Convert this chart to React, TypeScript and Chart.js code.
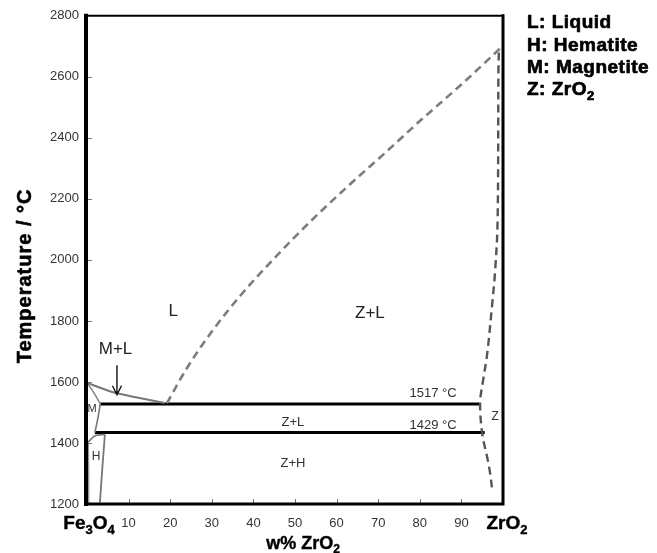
import React, { useEffect, useRef } from "react";
import { Chart, registerables } from "chart.js";
Chart.register(...registerables);

const FONT = "Arial, 'Liberation Sans', Helvetica, sans-serif";

// ---- axis ----
const xMin = 0;
const xMax = 100;
const xStep = 10;
const yMin = 1200;
const yMax = 2800;
const yStep = 200;

// ---- phase boundaries (w% ZrO2, °C) ----
const liquidusX = [19.2, 24, 30, 37, 45, 54, 63, 72, 80, 90, 98.9, 99.6];
const liquidusT = [1530, 1645, 1765, 1885, 2005, 2130, 2245, 2355, 2455, 2575, 2688, 2697];

const zrSolidusX = [99.0, 98.9, 98.7, 98.1, 97.4, 96.2, 95.2, 94.5, 95.0, 96.2, 96.9, 97.4];
const zrSolidusT = [2680, 2614, 2126, 1963, 1855, 1692, 1604, 1532, 1431, 1353, 1301, 1246];

const eutecticX = [3.2, 94.3];
const eutecticT = [1528, 1528];

const eutectoidX = [1.9, 95.6];
const eutectoidT = [1434, 1434];

const leftLiquidusX = [0, 6.3, 12, 18.7];
const leftLiquidusT = [1597, 1566, 1549, 1531];

const magUpperX = [0, 1.4, 3.2];
const magUpperT = [1597, 1570, 1529];

const magLowerX = [3.2, 2.6, 1.9];
const magLowerT = [1529, 1480, 1434];

const hemTopX = [0.3, 1.9, 4.3];
const hemTopT = [1403, 1424, 1428];

const hemRightX = [4.3, 3.7, 3.1];
const hemRightT = [1428, 1320, 1205];

const hemLeftX = [0.3, 0.4, 0.4];
const hemLeftT = [1403, 1300, 1202];

// arrow pointing at the M+L field
const arrowX = [7.2, 7.2];
const arrowT = [1655, 1558];

// ---- text labels ----
const regionLabels = ["L", "Z+L", "M+L", "Z+L", "Z+H", "M", "H", "Z", "1517 °C", "1429 °C"];
const regionX = [20.7, 68, 6.85, 49.5, 49.5, 1.2, 2.2, 98.1, 83.2, 83.2];
const regionT = [1832, 1826, 1708, 1467, 1334, 1512, 1354, 1485, 1562, 1458];
const regionSize = [17, 17, 17, 13, 13, 11, 12, 12, 13, 13];

const legendKeys = ["L", "H", "M", "Z"];
const legendNames = ["Liquid", "Hematite", "Magnetite", "ZrO"];
const legendSubs = ["", "", "", "2"];

const yTitle = "Temperature / °C";

const pts = (xs: number[], ts: number[]) => xs.map((x, i) => ({ x, y: ts[i] }));

type Part = [string, boolean];

function drawRich(
  ctx: CanvasRenderingContext2D,
  parts: Part[],
  x: number,
  y: number,
  size: number,
  align: "center" | "left",
  spacing = 0,
  heavy = 0
) {
  const mainF = `bold ${size}px ${FONT}`;
  const subF = `bold ${Math.round(size * 0.66)}px ${FONT}`;
  (ctx as any).letterSpacing = `${spacing}px`;
  let total = 0;
  const widths = parts.map(([t, s]) => {
    ctx.font = s ? subF : mainF;
    const w = ctx.measureText(t).width;
    total += w;
    return w;
  });
  let cx = align === "center" ? x - total / 2 : x;
  ctx.textAlign = "left";
  ctx.textBaseline = "middle";
  ctx.strokeStyle = ctx.fillStyle as string;
  ctx.lineWidth = heavy;
  ctx.lineJoin = "round";
  parts.forEach(([t, s], i) => {
    ctx.font = s ? subF : mainF;
    const yy = s ? y + size * 0.32 : y;
    ctx.fillText(t, cx, yy);
    if (heavy > 0) ctx.strokeText(t, cx, yy);
    cx += widths[i];
  });
  (ctx as any).letterSpacing = "0px";
}

const decorPlugin = {
  id: "decor",
  afterDatasetsDraw(chart: any) {
    const { ctx, chartArea: a, scales } = chart;
    const xs = scales.x;
    const ys = scales.y;
    ctx.save();
    // inward ticks
    ctx.strokeStyle = "#777";
    ctx.lineWidth = 1;
    for (let v = yMin + yStep; v < yMax; v += yStep) {
      const py = Math.round(ys.getPixelForValue(v)) + 0.5;
      ctx.beginPath();
      ctx.moveTo(a.left, py);
      ctx.lineTo(a.left + 5, py);
      ctx.stroke();
    }
    for (let v = xMin + xStep; v < xMax; v += xStep) {
      const px = Math.round(xs.getPixelForValue(v)) + 0.5;
      ctx.beginPath();
      ctx.moveTo(px, a.bottom);
      ctx.lineTo(px, a.bottom - 5);
      ctx.stroke();
    }
    // frame
    ctx.strokeStyle = "#000";
    ctx.lineCap = "square";
    ctx.lineWidth = 2;
    ctx.beginPath();
    ctx.moveTo(a.left, a.top);
    ctx.lineTo(a.right, a.top);
    ctx.stroke();
    ctx.lineWidth = 3;
    ctx.beginPath();
    ctx.moveTo(a.right, a.top);
    ctx.lineTo(a.right, a.bottom);
    ctx.lineTo(a.left, a.bottom);
    ctx.stroke();
    ctx.lineWidth = 4;
    ctx.beginPath();
    ctx.moveTo(a.left - 1, a.top);
    ctx.lineTo(a.left - 1, a.bottom);
    ctx.stroke();

    // arrow
    const ax = xs.getPixelForValue(arrowX[0]);
    const ay0 = ys.getPixelForValue(arrowT[0]);
    const ax1 = xs.getPixelForValue(arrowX[1]);
    const ay1 = ys.getPixelForValue(arrowT[1]);
    ctx.strokeStyle = "#111";
    ctx.lineWidth = 1.4;
    ctx.lineCap = "butt";
    ctx.beginPath();
    ctx.moveTo(ax, ay0);
    ctx.lineTo(ax1, ay1);
    ctx.moveTo(ax1 - 4.5, ay1 - 9);
    ctx.lineTo(ax1, ay1);
    ctx.lineTo(ax1 + 4.5, ay1 - 9);
    ctx.stroke();

    // region labels
    ctx.textAlign = "center";
    ctx.textBaseline = "middle";
    regionLabels.forEach((t, i) => {
      ctx.font = `${regionSize[i]}px ${FONT}`;
      ctx.fillStyle = regionSize[i] <= 13 ? "#333" : "#222";
      ctx.fillText(t, xs.getPixelForValue(regionX[i]), ys.getPixelForValue(regionT[i]));
    });

    // end-member labels
    ctx.fillStyle = "#000";
    const by = a.bottom + 20;
    drawRich(ctx, [["Fe", false], ["3", true], ["O", false], ["4", true]], xs.getPixelForValue(xMin) + 2, by, 19, "center", 0, 0.4);
    drawRich(ctx, [["ZrO", false], ["2", true]], xs.getPixelForValue(xMax) + 4, by, 19, "center", 0, 0.4);
    // x title
    drawRich(ctx, [["w% ZrO", false], ["2", true]], (a.left + a.right) / 2 + 8, a.bottom + 40, 18, "center", 0, 0.4);

    // y title
    ctx.save();
    ctx.translate(25, (a.top + a.bottom) / 2 + 16);
    ctx.rotate(-Math.PI / 2);
    (ctx as any).letterSpacing = "1px";
    ctx.font = `bold 20px ${FONT}`;
    ctx.textAlign = "center";
    ctx.textBaseline = "middle";
    ctx.fillStyle = "#000";
    ctx.strokeStyle = "#000";
    ctx.lineWidth = 0.6;
    ctx.fillText(yTitle, 0, 0);
    ctx.strokeText(yTitle, 0, 0);
    (ctx as any).letterSpacing = "0px";
    ctx.restore();

    // legend
    const lx = a.right + 24;
    const lys = [23, 46, 68, 90];
    ctx.fillStyle = "#000";
    legendKeys.forEach((k, i) => {
      const parts: Part[] = [[`${k}: ${legendNames[i]}`, false]];
      if (legendSubs[i]) parts.push([legendSubs[i], true]);
      drawRich(ctx, parts, lx, lys[i], 19, "left", 0.5, 0.7);
    });
    ctx.restore();
  },
};

export default function App() {
  const ref = useRef<HTMLCanvasElement | null>(null);
  useEffect(() => {
    if (!ref.current) return;
    const dashed = (data: any, color: string, w: number) => ({
      data,
      borderColor: color,
      borderWidth: w,
      borderDash: [8, 5],
      pointRadius: 0,
      showLine: true,
      fill: false,
      tension: 0.35,
    });
    const solid = (data: any, color: string, w: number) => ({
      data,
      borderColor: color,
      borderWidth: w,
      pointRadius: 0,
      showLine: true,
      fill: false,
      tension: 0.2,
    });
    const chart = new Chart(ref.current, {
      type: "scatter",
      data: {
        datasets: [
          { ...dashed(pts(liquidusX, liquidusT), "#7d7d7d", 2.6), cubicInterpolationMode: "monotone" } as any,
          dashed(pts(zrSolidusX, zrSolidusT), "#555", 2.4),
          solid(pts(leftLiquidusX, leftLiquidusT), "#777", 2),
          solid(pts(magUpperX, magUpperT), "#888", 1.6),
          solid(pts(magLowerX, magLowerT), "#777", 1.6),
          solid(pts(hemTopX, hemTopT), "#777", 1.6),
          solid(pts(hemRightX, hemRightT), "#777", 1.8),
          solid(pts(hemLeftX, hemLeftT), "#999", 1.4),
          { ...solid(pts(eutecticX, eutecticT), "#000", 3), tension: 0 },
          { ...solid(pts(eutectoidX, eutectoidT), "#000", 3), tension: 0 },
        ],
      },
      options: {
        animation: false,
        responsive: false,
        maintainAspectRatio: false,
        layout: { padding: { top: 13, right: 154, left: 0, bottom: 0 } },
        plugins: { legend: { display: false }, tooltip: { enabled: false } },
        scales: {
          x: {
            type: "linear",
            min: xMin,
            max: xMax,
            grid: { display: false, drawTicks: false },
            border: { display: false },
            afterFit: (s: any) => {
              s.height = 49;
            },
            ticks: {
              stepSize: xStep,
              autoSkip: false,
              maxRotation: 0,
              padding: 12,
              color: "#333",
              font: { size: 13, family: FONT },
              callback: (v: any) => (v === xMin || v === xMax ? "" : String(v)),
            },
          },
          y: {
            type: "linear",
            min: yMin,
            max: yMax,
            grid: { display: false, drawTicks: false },
            border: { display: false },
            afterFit: (s: any) => {
              s.width = 87;
            },
            ticks: {
              stepSize: yStep,
              padding: 8,
              color: "#333",
              font: { size: 13, family: FONT },
              callback: (v: any) => String(v),
            },
          },
        },
      },
      plugins: [decorPlugin],
    } as any);
    return () => chart.destroy();
  }, []);
  return (
    <div style={{ position: "fixed", left: 0, top: 0, width: 657, height: 553, background: "#fff" }}>
      <canvas ref={ref} width={657} height={553} style={{ width: 657, height: 553, display: "block" }} />
    </div>
  );
}
